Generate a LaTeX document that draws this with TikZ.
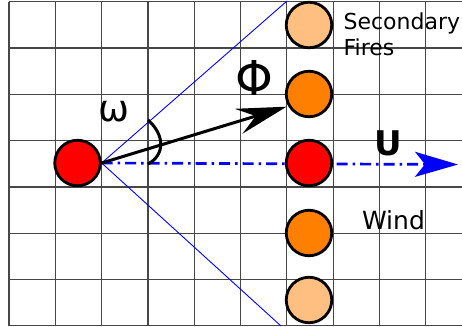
\documentclass[tikz,border=0pt]{standalone}
\usepackage{fontspec}
\setmainfont{DejaVu Sans}
\usepackage{xcolor}
\usetikzlibrary{arrows.meta,positioning,calc}
\definecolor{firered}{RGB}{255,0,0}
\definecolor{fireorange}{RGB}{255,128,0}
\definecolor{firepeach}{RGB}{255,191,128}
\tikzset{
  gridline/.style={draw=black!72,line width=1.2pt},
  fire/.style={circle,draw=black,line width=2.8pt,minimum size=45.5pt,inner sep=0pt},
  ray/.style={draw=blue,line width=0.9pt},
  arr/.style={-{Stealth[length=50pt,width=26pt,inset=18pt]},draw=black,line width=3pt},
  windarr/.style={-{Stealth[length=43pt,width=25pt,inset=10pt]},draw=blue,line width=2.7pt,
                  dash pattern=on 11pt off 5pt on 2.5pt off 5pt},
  lbl/.style={inner sep=0pt,outer sep=0pt},
}

\begin{document}
\begin{tikzpicture}[x=1pt,y=-1pt]
  \useasboundingbox (0,0) rectangle (462,326);
  % --- grid ---
  \foreach \i in {0,...,9}
    \draw[gridline] ({9+46.3*\i},1.7) -- ({9+46.3*\i},325.8);
  \foreach \j in {0,...,7}
    \draw[gridline] (9,{1.7+46.3*\j}) -- (462,{1.7+46.3*\j});
  % --- source fire and free ends ---
  \node[fire,fill=firered] (src) at (77.5,163) {};
  \coordinate (raytop)  at (287,1);
  \coordinate (raybot)  at (281,326);
  \coordinate (phitip)  at (286.5,106.7);
  \coordinate (windtip) at (458,164.5);
  % --- rays, wind, spread direction ---
  \draw[ray] (src.east) -- (raytop);
  \draw[ray] (src.east) -- (raybot);
  \draw[windarr] (src.east) -- (windtip);
  \draw[arr] (src.east) -- (phitip);
  \draw[line width=3pt] (148,120) .. controls (165,135) and (165,155) .. (148,164);
  % --- secondary fires ---
  \node[fire,fill=firepeach]  (f1) at (309,25)  {};
  \node[fire,fill=fireorange] (f2) at (309,94)  {};
  \node[fire,fill=firered]    (f3) at (309,163) {};
  \node[fire,fill=fireorange] (f4) at (309,233) {};
  \node[fire,fill=firepeach]  (f5) at (309,300) {};
  % --- labels ---
  \node[lbl,anchor=base] (omega) at (114.2,121.8) {\fontsize{37}{40}\selectfont ω};
  \node[lbl,anchor=base] (phi)   at (254.7,95.5)  {\fontsize{48}{52}\selectfont Φ};
  \node[lbl,anchor=base] (u)     at (388.3,155)   {\fontsize{34}{38}\selectfont\bfseries U};
  \node[lbl,anchor=north west,align=left,font=\fontsize{22}{26}\selectfont]
    (sec) at (343.6,12.6) {Secondary\\Fires};
  \node[lbl,anchor=base west,font=\fontsize{25}{30}\selectfont] (wind) at (362,229) {Wind};
\end{tikzpicture}
\end{document}
